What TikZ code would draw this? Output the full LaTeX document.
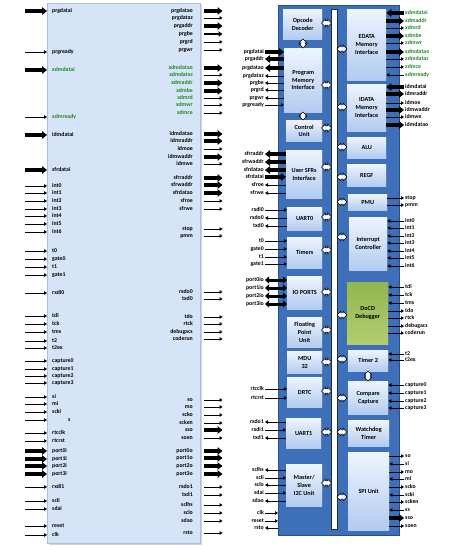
\documentclass[tikz,border=0pt]{standalone}
\usepackage{fontspec}
\setmainfont{Carlito}
\usetikzlibrary{arrows.meta,calc,shapes.arrows,shadows}

\definecolor{coreblue}{RGB}{214,228,248}
\definecolor{coreedge}{RGB}{170,192,224}
\definecolor{darkblue}{RGB}{62,112,186}
\definecolor{darkedge}{RGB}{38,78,138}
\definecolor{blktop}{RGB}{238,244,253}
\definecolor{blkbot}{RGB}{178,203,240}
\definecolor{dbgtop}{RGB}{146,182,78}
\definecolor{dbgbot}{RGB}{178,206,112}
\definecolor{xdmgreen}{RGB}{30,135,30}

\tikzset{
  lbl/.style={font=\bfseries\fontsize{5.8}{6}\selectfont, inner sep=1pt, text height=4pt, text depth=1.2pt},
  blk/.style={anchor=north west, inner sep=0pt, align=center, top color=blktop, bottom color=blkbot,
    font=\bfseries\fontsize{6.2}{7.7}\selectfont, drop shadow={shadow xshift=0.7pt, shadow yshift=-0.7pt, opacity=0.3}},
  dbgblk/.style={blk, top color=dbgtop, bottom color=dbgbot},
  link/.style={double arrow, draw=black, fill=white, line width=0.5pt, minimum height=10pt,
    inner xsep=0pt, inner ysep=1.9pt, double arrow head extend=1.8pt},
  wire/.style={line width=0.7pt, -{Triangle[length=3pt,width=3.6pt]}},
  wirer/.style={line width=0.7pt, {Triangle[length=3pt,width=3.6pt]}-},
  midfat/.style={line width=1.8pt, -{Triangle[length=4pt,width=5.5pt]}},
  fat/.style={line width=3.2pt, -{Triangle[length=5pt,width=7.5pt]}},
  fatr/.style={line width=3.2pt, {Triangle[length=5pt,width=7.5pt]}-},
  fatd/.style={line width=3pt, {Triangle[length=4pt,width=7pt]}-{Triangle[length=4pt,width=7pt]}}
}

\begin{document}
\begin{tikzpicture}[x=1pt,y=-1pt]
\useasboundingbox (0,0) rectangle (449,547);

% core wrapper
\node[anchor=north west, fill=coreblue, draw=coreedge, line width=0.5pt, minimum width=153pt, minimum height=540pt,
  drop shadow={shadow xshift=1.5pt, shadow yshift=-1.5pt, opacity=0.35}] (core) at (47,3) {};

\foreach \s/\y/\w/\c in {prgdatai/11/fat/black, prgready/52/wire/black, xdmdatai/70/fat/xdmgreen,
  xdmready/117/wire/xdmgreen, idmdatai/135/fat/black, sfrdatai/170/fat/black,
  int0/186/wire/black, int1/193/wire/black, int2/201/wire/black, int3/209/wire/black,
  int4/216/wire/black, int5/224/wire/black, int6/232/wire/black,
  t0/251/wire/black, gate0/259/wire/black, t1/267/wire/black, gate1/275/wire/black,
  rxdi0/293/wire/black, tdi/316/wire/black, tck/324/wire/black, tms/332/wire/black,
  t2/341/wire/black, t2ex/348/wire/black, capture0/361/wire/black, capture1/369/wire/black,
  capture2/376/wire/black, capture3/383/wire/black, si/397/wire/black, mi/404/wire/black,
  scki/412/wire/black, rtcclk/433/wire/black, rtcrst/441/wire/black,
  port0i/451/fat/black, port1i/459/fat/black, port2i/466/fat/black, port3i/474/fat/black,
  rxdi1/487/wire/black, scli/501/wire/black, sdai/509/wire/black, reset/526/wire/black, clk/535/wire/black}{
  \node[lbl, anchor=west, text=\c] (cl\s) at (51,\y) {\s};
  \draw[\w] ($(core.west |- cl\s)+(-22,0)$) -- (core.west |- cl\s);
}
\node[lbl, anchor=west] (clss) at (67,420) {s};
\draw[wire] ($(core.west |- clss)+(-22,0)$) -- (core.west |- clss);

\foreach \s/\y/\w/\c in {prgdatao/11/fat/black, prgdataz/18/wire/black, prgaddr/26/fat/black,
  prgbe/34/midfat/black, prgrd/42/wire/black, prgwr/50/wire/black,
  xdmdatao/68/fat/xdmgreen, xdmdataz/75/wire/xdmgreen, xdmaddr/83/fat/xdmgreen, xdmbe/91/fat/xdmgreen,
  xdmrd/98/wire/xdmgreen, xdmwr/105/wire/xdmgreen, xdmce/113/wire/xdmgreen,
  idmdatao/134/fat/black, idmraddr/141/fat/black, idmoe/149/wire/black, idmwaddr/157/fat/black,
  idmwe/164/wire/black, sfrraddr/178/fat/black, sfrwaddr/185/fat/black, sfrdatao/193/fat/black,
  sfroe/201/wire/black, sfrwe/209/wire/black, stop/229/wire/black, pmm/236/wire/black,
  rxdo0/292/wire/black, txd0/299/wire/black, tdo/317/wire/black, rtck/324/wire/black,
  debugacs/332/wire/black, coderun/339/wire/black, so/400/wire/black, mo/407/wire/black,
  scko/415/wire/black, scken/423/wire/black, sso/430/fat/black, soen/438/wire/black,
  port0o/451/fat/black, port1o/458/fat/black, port2o/466/fat/black, port3o/474/fat/black,
  rxdo1/487/wire/black, txd1/495/wire/black, sclhs/505/wire/black, sclo/513/wire/black,
  sdao/521/wire/black, rsto/533/wire/black}{
  \node[lbl, anchor=east, text=\c] (cr\s) at (194,\y) {\s};
  \draw[\w] ($(core.east |- cr\s)+(3,0)$) -- ($(core.east |- cr\s)+(22,0)$);
}

% soc block
\node[anchor=north west, fill=darkblue, draw=darkedge, line width=0.5pt, minimum width=121pt, minimum height=530pt,
  drop shadow={shadow xshift=1pt, shadow yshift=-1pt, opacity=0.3}] (soc) at (278,5) {};
\node[anchor=north west, fill=white, draw=darkedge!60!black, line width=0.6pt, minimum width=6pt,
  minimum height=520pt, inner sep=0pt] (sysbus) at (331,9) {};

% left column
\node[blk, minimum width=39pt, minimum height=30pt] (opc) at (283,9) {Opcode\\Decoder};
\node[blk, minimum width=38pt, minimum height=64pt] (pmi) at (284,48) {Program\\Memory\\Interface};
\node[blk, minimum width=36pt, minimum height=21pt] (ctl) at (286,120) {Control\\Unit};
\node[blk, minimum width=36pt, minimum height=48pt] (sfr) at (286,150) {User SFRs\\Interface};
\node[blk, minimum width=35pt, minimum height=23pt] (urt0) at (287,207) {UART0};
\node[blk, minimum width=35pt, minimum height=31pt] (tmr) at (287,237) {Timers};
\node[blk, minimum width=35pt, minimum height=33pt] (iop) at (287,276) {IO PORTS};
\node[blk, minimum width=35pt, minimum height=30pt] (fpu) at (287,317) {Floating\\Point\\Unit};
\node[blk, minimum width=35pt, minimum height=22pt] (mdu) at (287,351) {MDU\\32};
\node[blk, minimum width=35pt, minimum height=30pt] (drtc) at (287,377) {DRTC};
\node[blk, minimum width=35pt, minimum height=30pt] (urt1) at (286,418) {UART1};
\node[blk, minimum width=36pt, minimum height=42pt] (i2c) at (286,464) {Master/\\Slave\\I2C Unit};

% right column
\node[blk, minimum width=39pt, minimum height=71pt] (edata) at (347,9) {EDATA\\Memory\\Interface};
\node[blk, minimum width=39pt, minimum height=47pt] (idata) at (347,84) {IDATA\\Memory\\Interface};
\node[blk, minimum width=39pt, minimum height=21pt] (alu) at (347,137) {ALU};
\node[blk, minimum width=39pt, minimum height=22pt] (regf) at (347,164) {REGF};
\node[blk, minimum width=39pt, minimum height=16pt] (pmu) at (348,194) {PMU};
\node[blk, minimum width=38pt, minimum height=53pt] (intc) at (349,217) {Interrupt\\Controller};
\node[dbgblk, minimum width=41pt, minimum height=62pt] (docd) at (347,282) {DoCD\\Debugger};
\node[blk, minimum width=40pt, minimum height=21pt] (tmr2) at (348,350) {Timer 2};
\node[blk, minimum width=40pt, minimum height=33pt] (cmp) at (348,381) {Compare\\Capture};
\node[blk, minimum width=41pt, minimum height=26pt] (wdt) at (348,420) {Watchdog\\Timer};
\node[blk, minimum width=41pt, minimum height=78pt] (spi) at (348,452) {SPI Unit};

% bus links
\foreach \b/\y in {opc/23, pmi/85, ctl/128, sfr/167, urt0/217, tmr/250, iop/292, fpu/330,
  mdu/362, drtc/391, urt1/432, i2c/483}
  \node[link] (lk\b) at (326.5,\y) {};
\foreach \b/\y in {edata/49, idata/107, alu/147, regf/177, pmu/202, intc/237, docd/315,
  tmr2/359, cmp/398, wdt/432, spi/497}
  \node[link] (lk\b) at (342,\y) {};
\node[link, rotate=90, minimum height=9pt] (lkop) at (303,43.5) {};
\node[link, rotate=90, minimum height=8pt] (lkpc) at (303,116) {};
\node[link, rotate=90, minimum height=10pt] (lktc) at (368,376) {};

% left side signals
\foreach \s/\y/\w/\b in {prgdatai/52/fat/pmi, prgaddr/59/fatr/pmi, prgdatao/68/fatr/pmi,
  prgdataz/76/wirer/pmi, prgbe/83/wirer/pmi, prgrd/90/wirer/pmi, prgwr/98/wirer/pmi, prgready/105/wire/pmi,
  sfrraddr/154/fatr/sfr, sfrwaddr/162/fatr/sfr, sfrdatao/170/fatr/sfr, sfrdatai/177/fat/sfr,
  sfroe/185/wirer/sfr, sfrwe/193/wirer/sfr,
  rxdi0/210/wire/urt0, rxdo0/218/wirer/urt0, txd0/226/wirer/urt0,
  t0/241/wire/tmr, gate0/249/wire/tmr, t1/257/wire/tmr, gate1/264/wire/tmr,
  port0io/280/fatd/iop, port1io/288/fatd/iop, port2io/296/fatd/iop, port3io/304/fatd/iop,
  rtcclk/389/wire/drtc, rtcrst/398/wire/drtc,
  rxdo1/422/wirer/urt1, rxdi1/430/wire/urt1, txd1/438/wirer/urt1,
  sclhs/470/wirer/i2c, scli/478/wire/i2c, sclo/485/wirer/i2c, sdai/493/wire/i2c, sdao/501/wirer/i2c,
  clk/513/wire/soc, reset/521/wire/soc, rsto/528/wirer/soc}{
  \node[lbl, anchor=east] (ml\s) at (265,\y) {\s};
  \draw[\w] (ml\s.east) -- (ml\s.east -| \b.west);
}

% right side signals
\foreach \s/\y/\w in {xdmdatai/13/fat, xdmaddr/21/fatr, xdmrd/28/wirer, xdmbe/36/fatr,
  xdmwr/43/wirer, xdmdatao/52/fatr, xdmdataz/59/wirer, xdmce/67/wirer, xdmready/75/wire}{
  \node[lbl, anchor=west, text=xdmgreen] (mr\s) at (404,\y) {\s};
  \draw[\w] (mr\s.west) -- (mr\s.west -| edata.east);
}
\foreach \s/\y/\w/\b in {idmdatai/87/fat/idata, idmraddr/94/fatr/idata, idmoe/103/wirer/idata,
  idmwaddr/110/fatr/idata, idmwe/117/wirer/idata, idmdatao/125/fatr/idata,
  stop/198/wirer/pmu, pmm/205/wirer/pmu,
  int0/221/wire/intc, int1/228/wire/intc, int2/236/wire/intc, int3/243/wire/intc,
  int4/251/wire/intc, int5/258/wire/intc, int6/266/wire/intc,
  tdi/287/wire/docd, tck/295/wire/docd, tms/303/wire/docd, tdo/311/wirer/docd,
  rtck/318/wirer/docd, debugacs/326/wirer/docd, coderun/333/wirer/docd,
  t2/354/wire/tmr2, t2ex/360/wire/tmr2,
  capture0/385/wire/cmp, capture1/393/wire/cmp, capture2/401/wire/cmp, capture3/408/wire/cmp,
  so/456/wirer/spi, si/464/wire/spi, mo/472/wirer/spi, mi/479/wire/spi, scko/487/wirer/spi,
  scki/495/wire/spi, scken/502/wirer/spi, ss/510/wire/spi, sso/518/fatr/spi, soen/526/wirer/spi}{
  \node[lbl, anchor=west] (mr\s) at (404,\y) {\s};
  \draw[\w] (mr\s.west) -- (mr\s.west -| \b.east);
}
\end{tikzpicture}
\end{document}
